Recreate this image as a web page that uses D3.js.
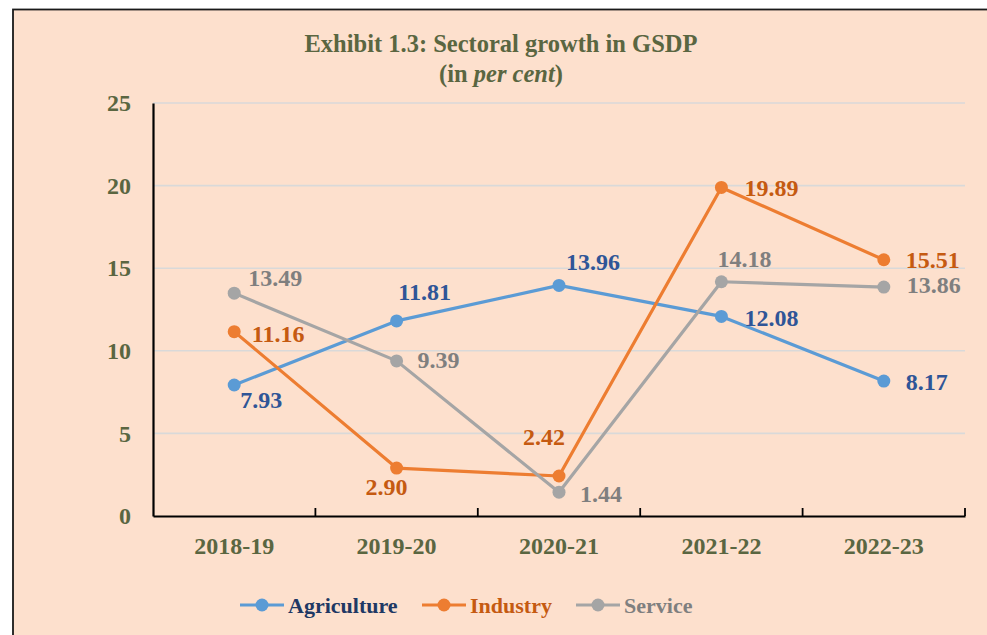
<!DOCTYPE html>
<html><head><meta charset="utf-8">
<script src="https://cdn.jsdelivr.net/npm/d3@7/dist/d3.min.js"></script>
<style>html,body{margin:0;padding:0;background:#fff;}svg{display:block;}</style>
</head><body>
<script>
const categories = ["2018-19", "2019-20", "2020-21", "2021-22", "2022-23"];
const seriesNames = ["Agriculture", "Industry", "Service"];
const agriculture = [7.93, 11.81, 13.96, 12.08, 8.17];
const industry = [11.16, 2.90, 2.42, 19.89, 15.51];
const service = [13.49, 9.39, 1.44, 14.18, 13.86];
const yTicks = [0, 5, 10, 15, 20, 25];

// layout: label offsets (centre dx, baseline dy) relative to each point
const labelOffsets = {
  Agriculture: [[27, 23], [28, -21], [34, -15], [50, 10], [43, 9]],
  Industry: [[44, 10], [-10, 27], [-15, -31], [50, 9], [49, 8]],
  Service: [[41, -7], [42, 7], [42, 10], [23, -15], [50, 6]]
};

const W = 987, H = 635;
const FONT = "'Liberation Serif','Times New Roman',serif";
const olive = "#5a6641";
const styles = {
  Agriculture: {line: "#5b9bd5", label: "#2f5597", legend: "#203864"},
  Industry: {line: "#ed7d31", label: "#c55a11", legend: "#c55a11"},
  Service: {line: "#a5a5a5", label: "#7f7f7f", legend: "#7f7f7f"}
};
const data = [
  {name: "Agriculture", values: agriculture},
  {name: "Industry", values: industry},
  {name: "Service", values: service}
];

const svg = d3.select("body").append("svg").attr("width", W).attr("height", H);
svg.append("rect").attr("x", 0).attr("y", 0).attr("width", W).attr("height", H).attr("fill", "#fff");
svg.append("rect").attr("x", 13).attr("y", 9.5).attr("width", W + 20).attr("height", H + 20)
  .attr("fill", "#fde0cd").attr("stroke", "#1a1a1a").attr("stroke-width", 1.8);

const plot = {left: 153, right: 965, top: 103, bottom: 516};
const x = d3.scaleBand().domain(categories).range([plot.left, plot.right]);
const y = d3.scaleLinear().domain([0, 25]).range([plot.bottom, plot.top]);
const cx = c => x(c) + x.bandwidth() / 2;

// title
const title = svg.append("text").attr("text-anchor", "middle").attr("font-family", FONT)
  .attr("font-weight", "bold").attr("font-size", 24.5).attr("fill", olive);
title.append("tspan").attr("x", 501).attr("y", 52).text("Exhibit 1.3: Sectoral growth in GSDP");
const t2 = title.append("tspan").attr("x", 501).attr("y", 82);
t2.append("tspan").text("(in ");
t2.append("tspan").attr("font-style", "italic").text("per cent");
t2.append("tspan").text(")");

// gridlines
svg.append("g").selectAll("line").data(yTicks.filter(d => d > 0)).join("line")
  .attr("x1", plot.left).attr("x2", plot.right)
  .attr("y1", d => y(d)).attr("y2", d => y(d))
  .attr("stroke", "#d9d9d9").attr("stroke-width", 1.6);

// y axis
const yAxis = svg.append("g").attr("transform", `translate(${plot.left},0)`)
  .call(d3.axisLeft(y).tickValues(yTicks).tickSize(0).tickPadding(22).tickFormat(d3.format("d")));
yAxis.select(".domain").attr("stroke", "#000").attr("stroke-width", 2.2);
yAxis.selectAll("text").attr("font-family", FONT).attr("font-weight", "bold")
  .attr("font-size", 24).attr("fill", olive).attr("dy", "0.32em");

// x axis
const xAxis = svg.append("g").attr("transform", `translate(0,${plot.bottom})`)
  .call(d3.axisBottom(x).tickSize(0).tickPadding(21));
xAxis.select(".domain").attr("stroke", "#000").attr("stroke-width", 2.2);
xAxis.selectAll("text").attr("font-family", FONT).attr("font-weight", "bold")
  .attr("font-size", 24).attr("fill", olive);
// category boundary ticks (inside)
svg.append("g").selectAll("line").data(categories.slice(1).concat(["__end"])).join("line")
  .attr("x1", d => d === "__end" ? plot.right : x(d)).attr("x2", d => d === "__end" ? plot.right : x(d))
  .attr("y1", plot.bottom).attr("y2", plot.bottom - 8)
  .attr("stroke", "#000").attr("stroke-width", 1.8);

// lines
const line = d3.line().x((d, i) => cx(categories[i])).y(d => y(d));
const g = svg.append("g");
data.forEach(s => {
  g.append("path").datum(s.values).attr("d", line).attr("fill", "none")
    .attr("stroke", styles[s.name].line).attr("stroke-width", 3.2).attr("stroke-linejoin", "round");
});
data.forEach(s => {
  g.selectAll(null).data(s.values).join("circle")
    .attr("cx", (d, i) => cx(categories[i])).attr("cy", d => y(d)).attr("r", 6.5)
    .attr("fill", styles[s.name].line);
});
// labels
data.forEach(s => {
  g.selectAll(null).data(s.values).join("text")
    .attr("x", (d, i) => cx(categories[i]) + labelOffsets[s.name][i][0])
    .attr("y", (d, i) => y(d) + labelOffsets[s.name][i][1])
    .attr("text-anchor", "middle").attr("font-family", FONT).attr("font-weight", "bold")
    .attr("font-size", 24).attr("fill", styles[s.name].label)
    .text(d => d.toFixed(2));
});

// legend
const legendX = [240, 422, 576];
const leg = svg.append("g");
seriesNames.forEach((n, i) => {
  const lx = legendX[i], ly = 605;
  leg.append("line").attr("x1", lx).attr("x2", lx + 44).attr("y1", ly).attr("y2", ly)
    .attr("stroke", styles[n].line).attr("stroke-width", 3.2);
  leg.append("circle").attr("cx", lx + 22).attr("cy", ly).attr("r", 6.5).attr("fill", styles[n].line);
  leg.append("text").attr("x", lx + 48).attr("y", 613).attr("font-family", FONT)
    .attr("font-weight", "bold").attr("font-size", 22).attr("fill", styles[n].legend).text(n);
});
</script>
</body></html>
